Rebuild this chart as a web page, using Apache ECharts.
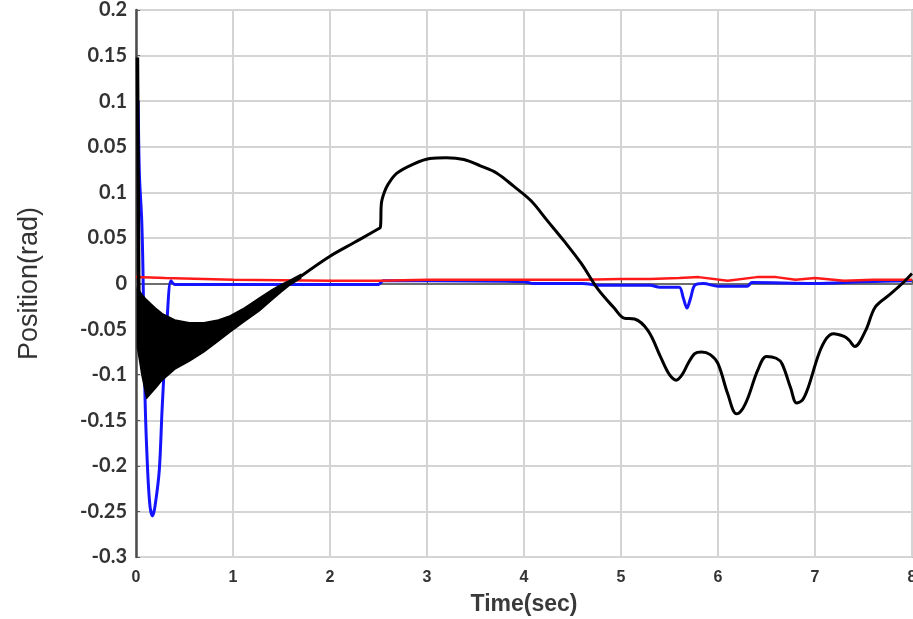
<!DOCTYPE html>
<html>
<head>
<meta charset="utf-8">
<script src="https://cdn.jsdelivr.net/npm/echarts@6/dist/echarts.min.js"></script>
<style>
html,body{margin:0;padding:0;background:#fff;}
#chart{width:913px;height:619px;}
</style>
</head>
<body>
<div id="chart"></div>
<script>
// ---- data ----
// y tick labels exactly as printed on the reference (bottom to top)
var yTickLabels = ['-0.3','-0.25','-0.2','-0.15','-0.1','-0.05','0','0.05','0.1','0.05','0.1','0.15','0.2'];
var xTickLabels = ['0','1','2','3','4','5','6','7','8'];

// red trace [time, value]
var redSeries = [
  [0,0.007],[0.3,0.006],[1.0,0.004],[2.0,0.003],[2.5,0.003],[3.0,0.004],[4.0,0.004],
  [4.6,0.004],[5.0,0.005],[5.3,0.005],[5.6,0.006],[5.8,0.007],[6.1,0.003],[6.4,0.007],
  [6.6,0.007],[6.8,0.004],[7.0,0.006],[7.3,0.003],[7.6,0.004],[8.0,0.004]
];

// blue trace [time, value]
var blueSeries = [
  [0.022,0.2],[0.035,0.12],[0.059,0.069],[0.072,0.014],[0.093,-0.125],[0.12,-0.205],
  [0.145,-0.245],[0.17,-0.255],[0.195,-0.245],[0.24,-0.205],[0.27,-0.136],[0.32,-0.041],
  [0.36,0.003],[0.4,-0.001],[1.0,-0.001],[2.0,-0.001],[2.5,-0.001],[2.55,0.003],
  [3.0,0.003],[4.0,0.002],[4.1,0.0],[4.6,0.0],[4.8,-0.002],[5.3,-0.002],[5.4,-0.004],
  [5.6,-0.004],[5.64,-0.015],[5.68,-0.027],[5.72,-0.015],[5.76,-0.002],[5.85,0.0],
  [6.0,-0.003],[6.3,-0.003],[6.35,0.001],[7.0,0.0],[7.5,0.002],[8.0,0.003]
];

// black trace: initial spike, then dense oscillation band (envelopes), then smooth line
var blackSpike = [[0.015,0.248],[0.022,0.12],[0.028,0.0],[0.03,-0.01]];
var bandTime  = [0.015,0.06,0.11,0.15,0.2,0.27,0.4,0.55,0.7,0.85,0.96,1.1,1.27,1.4,1.5,1.58,1.7];
var bandUpper = [-0.005,-0.012,-0.018,-0.022,-0.027,-0.033,-0.04,-0.043,-0.043,-0.04,-0.036,-0.028,-0.016,-0.007,-0.001,0.003,0.01];
var bandLower = [-0.07,-0.1,-0.126,-0.121,-0.115,-0.106,-0.094,-0.085,-0.075,-0.063,-0.054,-0.043,-0.03,-0.018,-0.009,-0.002,0.006];
var blackSeries = [
  [1.7,0.008],[2.0,0.03],[2.25,0.045],[2.5,0.06],[2.52,0.062],[2.53,0.088],[2.56,0.1],
  [2.6,0.109],[2.69,0.121],[2.86,0.131],[3.03,0.137],[3.2,0.138],[3.38,0.136],[3.55,0.129],
  [3.72,0.121],[3.89,0.107],[4.07,0.091],[4.24,0.069],[4.41,0.047],[4.59,0.022],[4.76,-0.006],
  [4.93,-0.027],[5.03,-0.038],[5.14,-0.039],[5.28,-0.052],[5.41,-0.081],[5.5,-0.1],[5.57,-0.106],
  [5.63,-0.1],[5.69,-0.088],[5.76,-0.077],[5.83,-0.075],[5.92,-0.078],[6.0,-0.088],[6.1,-0.121],
  [6.19,-0.143],[6.25,-0.138],[6.31,-0.125],[6.41,-0.095],[6.5,-0.08],[6.6,-0.082],[6.66,-0.088],
  [6.75,-0.115],[6.81,-0.131],[6.87,-0.128],[6.93,-0.114],[7.04,-0.077],[7.12,-0.06],[7.19,-0.055],
  [7.3,-0.058],[7.35,-0.062],[7.41,-0.069],[7.52,-0.052],[7.62,-0.026],[7.76,-0.013],[7.9,0.0],[8.0,0.011]
];

// ---- build chart ----
function renderBand(params, api){
  var pts = [];
  for (var i = 0; i < bandTime.length; i++) pts.push(api.coord([bandTime[i], bandUpper[i]]));
  for (var j = bandTime.length - 1; j >= 0; j--) pts.push(api.coord([bandTime[j], bandLower[j]]));
  return {type:'polygon', shape:{points:pts}, style:{fill:'#000', stroke:'#000', lineWidth:1.5, lineJoin:'round'}};
}

var chart = echarts.init(document.getElementById('chart'), null, {renderer:'canvas'});
var option = {
  backgroundColor:'#ffffff',
  animation:false,
  grid:{left:136,right:1,top:10,bottom:62,outerBoundsMode:'none',containLabel:false,
    show:true,borderColor:'#8c8c8c',borderWidth:1.5,backgroundColor:'transparent'},
  xAxis:{
    type:'value',min:0,max:8,interval:1,
    name:'Time(sec)',nameLocation:'middle',nameGap:36,
    nameTextStyle:{fontFamily:'Liberation Sans',fontSize:23,fontWeight:'bold',color:'#3a3a3a'},
    axisLine:{show:true,lineStyle:{color:'#6e6e6e',width:2}},
    axisTick:{show:true,inside:true,length:4,lineStyle:{color:'#555'}},
    axisLabel:{margin:13,fontFamily:'Liberation Sans',fontSize:16,fontWeight:'bold',color:'#333',
      formatter:function(v){ return xTickLabels[Math.round(v)]; }},
    splitLine:{show:true,lineStyle:{color:'#d4d4d4',width:2}}
  },
  yAxis:{
    type:'value',min:-0.3,max:0.3,interval:0.05,
    name:'Position(rad)',nameLocation:'middle',nameGap:93,
    nameTextStyle:{fontFamily:'Liberation Sans',fontSize:27,color:'#333'},
    axisLine:{show:true,lineStyle:{color:'#4d4d4d',width:2.5}},
    axisTick:{show:true,inside:true,length:4,lineStyle:{color:'#555'}},
    axisLabel:{margin:9,fontFamily:'Lato',fontSize:20,fontWeight:'bold',color:'#333',
      formatter:function(v){ return yTickLabels[Math.round((v+0.3)/0.05)]; }},
    splitLine:{show:true,lineStyle:{color:'#d4d4d4',width:2}}
  },
  series:[
    {name:'blue',type:'line',data:blueSeries,showSymbol:false,smooth:0.3,
      lineStyle:{color:'#1414ff',width:3},z:2},
    {name:'red',type:'line',data:redSeries,showSymbol:false,
      lineStyle:{color:'#ff1a1a',width:2.5},z:3},
    {name:'band',type:'custom',renderItem:renderBand,data:[[bandTime[0],bandUpper[0]]],clip:true,z:4},
    {name:'spike',type:'line',data:blackSpike,showSymbol:false,
      lineStyle:{color:'#000',width:3.5},z:5},
    {name:'black',type:'line',data:blackSeries,showSymbol:false,smooth:0.35,
      lineStyle:{color:'#000',width:3},z:5}
  ]
};
chart.setOption(option);
</script>
</body>
</html>
